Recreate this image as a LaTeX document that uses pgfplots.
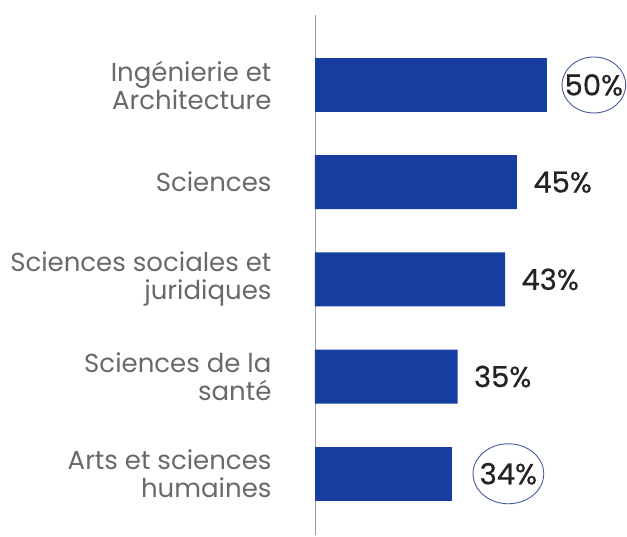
\documentclass[border=0pt]{standalone}
\usepackage{pgfplots}
\pgfplotsset{compat=1.18}
\usepackage{fontspec}
\setmainfont{Poppins}
\newfontface\numfont[FakeBold=0.6]{Poppins}
\usetikzlibrary{shapes.geometric}
\definecolor{barblue}{RGB}{22,62,160}
\definecolor{labgray}{RGB}{105,105,105}
\definecolor{numdark}{RGB}{35,35,35}
\definecolor{ringblue}{RGB}{70,90,160}
\begin{document}
\begin{tikzpicture}
\begin{axis}[
  name=ax,
  at={(0pt,0pt)}, anchor=south west,
  scale only axis, width=291pt, height=520pt,
  xmin=11, xmax=60, ymin=-0.72, ymax=4.63, y dir=reverse,
  xbar, bar width=54pt, bar shift=0pt,
  hide x axis, axis y line*=left,
  y axis line style={draw=gray!80, line width=0.8pt},
  ytick={0,1,2,3,4},
  yticklabels={{Ingénierie et\\Architecture},{Sciences},{Sciences sociales et\\juridiques},{Sciences de la\\santé},{Arts et sciences\\humaines}},
  major tick length=0pt,
  yticklabel style={align=right, font=\fontsize{26}{28}\selectfont, text=labgray, xshift=-40pt},
  clip mode=individual,
  point meta=x,
  /pgf/number format/assume math mode=true,
  nodes near coords={\numfont\pgfmathprintnumber{\pgfplotspointmeta}\%},
  every node near coord/.append style={font=\fontsize{29}{31}\selectfont, text=numdark, xshift=13pt},
]
\addplot[fill=barblue, draw=none] coordinates {(45,1) (43,2) (35,3)};
\addplot[fill=barblue, draw=none,
  nodes near coords={\makebox[45pt]{\numfont\pgfmathprintnumber{\pgfplotspointmeta}\%}},
  every node near coord/.append style={draw=ringblue, ellipse, line width=0.9pt, inner sep=0pt, minimum height=56pt, xshift=2pt}]
  coordinates {(50,0)};
\addplot[fill=barblue, draw=none,
  nodes near coords={\makebox[50pt]{\numfont\pgfmathprintnumber{\pgfplotspointmeta}\%}},
  every node near coord/.append style={draw=ringblue, ellipse, line width=0.9pt, inner sep=0pt, minimum height=60pt, xshift=8pt}]
  coordinates {(34,4)};
\end{axis}
\pgfresetboundingbox
\useasboundingbox ([xshift=-315pt,yshift=-1pt]ax.south west) rectangle ++(627pt,536pt);
\end{tikzpicture}
\end{document}
